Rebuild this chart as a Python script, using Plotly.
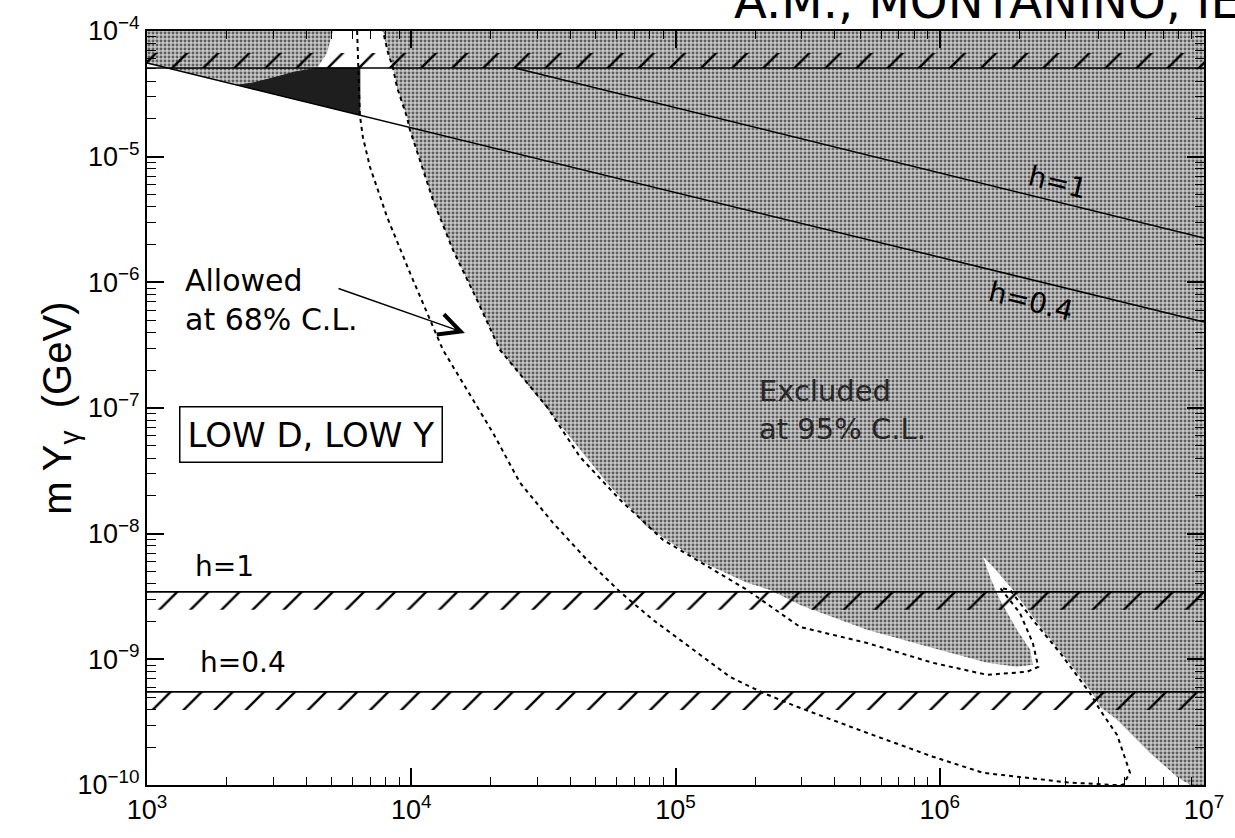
import plotly.graph_objects as go

# ---------------- data ----------------
# excluded (95% C.L.) region, left part inside the top band / wedge
excl_left_x = [1000, 5050, 4800, 4400, 6390, 6390, 1000]
excl_left_y = [1e-4, 1e-4, 6.68e-5, 5.08e-5, 5.08e-5, 2.15e-5, 5.56e-5]

# dark blob just under the top band
blob_x = [2190, 2520, 3000, 3630, 4030, 4400, 6390, 6390]
blob_y = [3.7e-5, 3.86e-5, 4.23e-5, 4.72e-5, 4.90e-5, 5.08e-5, 5.08e-5, 2.14e-5]

# main excluded (95% C.L.) region
excl_x = [7820, 8170, 8530, 8830, 9630, 9890, 12080, 14380, 17740, 21660, 30700,
          38820, 55060, 78000, 120600, 186500, 228000, 296000, 530500, 942000,
          1.51e6, 1.96e6, 2.25e6, 2.20e6, 1.96e6, 1.69e6, 1.55e6, 1.458e6,
          1.59e6, 1.893e6, 2.40e6, 3.03e6, 3.77e6, 4.04e6, 4.69e6, 6.25e6,
          7.91e6, 8.86e6, 1e7, 1e7]
excl_y = [1e-4, 6.68e-5, 5.08e-5, 3.58e-5, 2.07e-5, 1.63e-5, 4.53e-6, 1.81e-6,
          7.24e-7, 2.90e-7, 1.16e-7, 6.34e-8, 2.54e-8, 1.13e-8, 6.19e-9, 4.06e-9,
          3.57e-9, 2.71e-9, 1.72e-9, 1.23e-9, 9.38e-10, 8.71e-10, 9.04e-10,
          1.19e-9, 1.72e-9, 2.97e-9, 4.53e-9, 6.54e-9, 5.45e-9, 3.57e-9, 1.81e-9,
          9.91e-10, 5.41e-10, 4.19e-10, 3.30e-10, 1.80e-10, 1.16e-10, 1e-10,
          1e-10, 1e-4]

# 68% C.L. allowed contour (dashed)
cont_x = [6240, 6290, 6390, 6560, 6980, 8100, 9890, 13180, 17130, 20380, 25800,
          34380, 46240, 61700, 82200, 120600, 160700, 214400, 288600, 530500,
          942000, 1.458e6, 3.03e6, 4.53e6, 4.93e6, 5.25e6, 4.69e6, 4.04e6,
          3.70e6, 2.85e6, 2.25e6, 1.845e6, 1.69e6, 2.01e6, 2.25e6, 2.36e6,
          2.14e6, 1.51e6, 942000, 530500, 296000, 186500, 138600, 89700, 61700,
          43520, 32650, 21660, 17740, 14380, 12080, 9890, 9630, 8830, 8530,
          8170, 7820]
cont_y = [1e-4, 5.08e-5, 2.15e-5, 1.43e-5, 8.28e-6, 3.31e-6, 1.19e-6, 2.90e-7,
          1.16e-7, 6.34e-8, 2.54e-8, 1.22e-8, 6.19e-9, 3.44e-9, 2.06e-9,
          1.13e-9, 7.26e-10, 5.41e-10, 4.19e-10, 2.60e-10, 1.68e-10, 1.25e-10,
          1.05e-10, 1.0e-10, 1.0e-10, 1.25e-10, 2.5e-10, 3.96e-10, 5.4e-10,
          1.13e-9, 2.06e-9, 3.57e-9, 3.71e-9, 2.34e-9, 1.35e-9, 8.71e-10,
          7.96e-10, 7.53e-10, 9.38e-10, 1.35e-9, 1.81e-9, 3.57e-9, 5.15e-9,
          8.93e-9, 1.86e-8, 4.08e-8, 1.02e-7, 2.90e-7, 7.24e-7, 1.81e-6,
          4.53e-6, 1.63e-5, 2.07e-5, 3.58e-5, 5.08e-5, 6.68e-5, 1e-4]

# horizontal limits (hatched bands): top limit, h=1 and h=0.4
band_top = [5.08e-5, 6.68e-5]
band_h1 = [3.44e-9, 2.48e-9]
band_h04 = [5.51e-10, 3.96e-10]

# diagonal limits h=0.4 (lower) and h=1 (upper)
diag04_x = [1000, 1e7]
diag04_y = [5.56e-5, 4.84e-7]
diag1_x = [24700, 1e7]
diag1_y = [5.08e-5, 2.25e-6]

x_range = [1e3, 1e7]
x_ticks = [1e3, 1e4, 1e5, 1e6, 1e7]
x_ticktext = ["10<sup>3</sup>", "10<sup>4</sup>", "10<sup>5</sup>",
              "10<sup>6</sup>", "10<sup>7</sup>"]
y_ticks = [1e-10, 1e-9, 1e-8, 1e-7, 1e-6, 1e-5, 1e-4]
y_ticktext = ["10<sup>\u221210</sup>", "10<sup>\u22129</sup>",
              "10<sup>\u22128</sup>", "10<sup>\u22127</sup>",
              "10<sup>\u22126</sup>", "10<sup>\u22125</sup>",
              "10<sup>\u22124</sup>"]
x_minor = [k * 10 ** d for d in range(3, 7) for k in range(2, 10)]
y_minor = [k * 10.0 ** d for d in range(-10, -4) for k in range(2, 10)]

# ---------------- figure ----------------
fig = go.Figure()

stipple = dict(shape=".", size=4, solidity=0.42, fgcolor="#5e5e5e",
               bgcolor="#cacaca", fillmode="replace")

for xs, ys in [(excl_left_x, excl_left_y), (excl_x, excl_y)]:
    fig.add_trace(go.Scatter(x=xs, y=ys, mode="lines", fill="toself",
                             fillcolor="#cacaca", fillpattern=stipple,
                             line=dict(width=0), hoverinfo="skip",
                             showlegend=False))

fig.add_trace(go.Scatter(x=blob_x, y=blob_y, mode="lines", fill="toself",
                         fillcolor="#1e1e1e", line=dict(width=1, color="#1e1e1e"),
                         hoverinfo="skip", showlegend=False))

hatch = dict(shape="/", size=22, solidity=0.11, fgcolor="black",
             fgopacity=1, fillmode="overlay")
for b in [band_top, band_h1, band_h04]:
    fig.add_trace(go.Scatter(
        x=[x_range[0], x_range[1], x_range[1], x_range[0], x_range[0]],
        y=[b[0], b[0], b[1], b[1], b[0]], mode="lines", fill="toself",
        fillcolor="rgba(0,0,0,0)", fillpattern=hatch, line=dict(width=0),
        hoverinfo="skip", showlegend=False))
    fig.add_trace(go.Scatter(x=x_range, y=[b[0], b[0]], mode="lines",
                             line=dict(color="black", width=1.6),
                             hoverinfo="skip", showlegend=False))

for xs, ys in [(diag04_x, diag04_y), (diag1_x, diag1_y)]:
    fig.add_trace(go.Scatter(x=xs, y=ys, mode="lines",
                             line=dict(color="black", width=1.5),
                             hoverinfo="skip", showlegend=False))

fig.add_trace(go.Scatter(x=cont_x, y=cont_y, mode="lines",
                         line=dict(color="black", width=2, dash="4px,4px"),
                         hoverinfo="skip", showlegend=False))

axis_common = dict(type="log", showgrid=False, zeroline=False, showline=True,
                   linecolor="black", linewidth=2, mirror="allticks",
                   ticks="inside", ticklen=17, tickwidth=1.5, tickcolor="black",
                   tickmode="array",
                   tickfont=dict(family="Liberation Sans", size=27, color="black"))

fig.update_layout(
    width=1235, height=838,
    margin=dict(l=147, r=31, t=31, b=53),
    paper_bgcolor="white", plot_bgcolor="white",
    xaxis=dict(range=[3, 7], tickvals=x_ticks, ticktext=x_ticktext,
               minor=dict(tickvals=x_minor, ticks="inside", ticklen=8,
                          tickwidth=1.2, tickcolor="black"),
               **axis_common),
    yaxis=dict(range=[-10, -4], tickvals=y_ticks, ticktext=y_ticktext,
               minor=dict(tickvals=y_minor, ticks="inside", ticklen=9,
                          tickwidth=1.2, tickcolor="black"),
               **axis_common),
    showlegend=False,
)

txt = dict(family="DejaVu Sans", color="black")
annotations = [
    dict(xref="paper", yref="paper", x=-0.108, y=0.5, textangle=-90,
         text="m Y<sub>\u03b3</sub>\u00a0 (GeV)", showarrow=False,
         font=dict(family="Liberation Sans", size=40, color="black")),
    dict(xref="x", yref="y", x=3.136, y=-6.14, xanchor="left", yanchor="middle",
         align="left", text="Allowed<br>at 68% C.L.", showarrow=False,
         font=dict(size=30, **txt)),
    dict(xref="x", yref="y", x=4.203, y=-6.403, ax=3.719, ay=-6.045,
         axref="x", ayref="y", text="", showarrow=True, arrowhead=5,
         arrowsize=3, arrowwidth=1.4, arrowcolor="black"),
    dict(xref="x", yref="y", x=3.621, y=-7.214, text="LOW D, LOW Y",
         showarrow=False, bordercolor="black", borderwidth=1.5, borderpad=7,
         font=dict(size=34, **txt)),
    dict(xref="x", yref="y", x=5.308, y=-7.015, xanchor="left",
         yanchor="middle", align="left", text="Excluded<br>at 95% C.L.",
         showarrow=False, font=dict(family="DejaVu Sans", size=29,
                                    color="#262626")),
    dict(xref="x", yref="y", x=3.295, y=-8.264, text="h=1", showarrow=False,
         font=dict(size=28, **txt)),
    dict(xref="x", yref="y", x=3.363, y=-9.028, text="h=0.4", showarrow=False,
         font=dict(size=28, **txt)),
    dict(xref="x", yref="y", x=6.447, y=-5.209, text="h=1", showarrow=False,
         textangle=14, font=dict(size=28, **txt)),
    dict(xref="x", yref="y", x=6.345, y=-6.156, text="h=0.4", showarrow=False,
         textangle=14, font=dict(size=28, **txt)),
    dict(xref="paper", yref="paper", x=0.553, y=1.0, xanchor="left",
         yanchor="bottom", text="A.M., MONTANINO, IE", showarrow=False,
         font=dict(family="DejaVu Sans", size=48, color="black")),
]
fig.update_layout(annotations=annotations)

fig.write_html("out.html", config={"displayModeBar": False},
               post_script="document.body.style.margin='0';")
